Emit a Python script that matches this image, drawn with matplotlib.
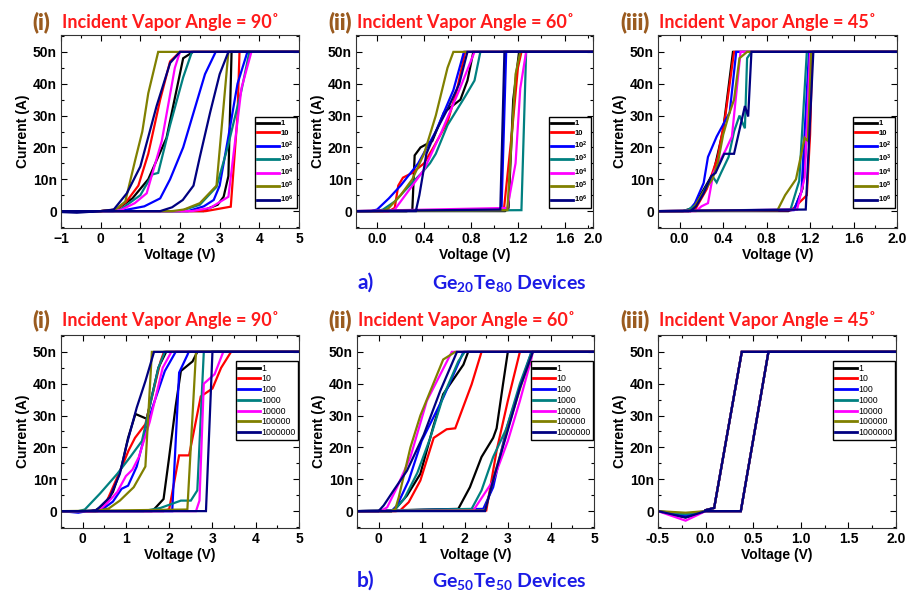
import matplotlib.pyplot as plt
from matplotlib.ticker import MultipleLocator

plt.rcParams['font.family'] = ['Liberation Sans', 'DejaVu Sans']
plt.rcParams['mathtext.default'] = 'regular'

colors = ['black', '#ff0000', '#0000ff', '#008080', '#ff00ff', '#808000', '#000080']
labels_a = ['1', '10', '10$^2$', '10$^3$', '10$^4$', '10$^5$', '10$^6$']
labels_b = ['1', '10', '100', '1000', '10000', '100000', '1000000']
current_ticks = [0, 10, 20, 30, 40, 50]
current_labels = ['0', '10n', '20n', '30n', '40n', '50n']

# I-V loops (voltage in V, current in nA), one list per switching-cycle count
a1_loops = [
    [(-1, 0), (2.6, 0), (2.7, 0.8), (2.95, 2), (3.1, 4.5), (3.22, 11), (3.3, 50), (5, 50), (2.33, 50), (2.08, 48),
     (1.66, 23), (1.2, 10), (0.8, 4), (0.4, 0.5), (0, 0), (-1, 0)],
    [(-1, 0), (2.65, 0), (3.28, 1.4), (3.45, 30), (3.5, 50), (5, 50), (2.0, 50), (1.75, 47), (1.5, 35), (1.2, 18),
     (0.95, 8), (0.65, 3), (0.4, 0.5), (0, 0), (-1, 0)],
    [(-1, 0), (2.2, 0), (2.6, 1.5), (2.85, 3.5), (3.0, 8), (3.2, 22), (3.45, 40), (3.7, 50), (5, 50), (2.9, 50),
     (2.63, 43), (2.08, 20), (1.75, 10), (1.5, 4), (1.1, 1.5), (0.6, 0.3), (0.3, 0), (-1, 0)],
    [(-1, 0), (2.0, 0), (2.5, 2), (2.92, 7.6), (3.2, 20), (3.55, 38), (3.75, 50), (5, 50), (2.3, 50), (2.08, 42),
     (1.75, 27), (1.45, 12), (1.3, 11.5), (1.0, 5), (0.5, 0.5), (0, 0), (-1, 0)],
    [(-1, 0), (2.3, 0), (2.76, 1), (3.22, 4.5), (3.55, 38.6), (3.8, 50), (5, 50), (2.0, 50), (1.87, 45), (1.54, 22),
     (1.16, 5.6), (0.86, 2.5), (0.5, 0.3), (0, 0), (-1, 0)],
    [(-1, 0), (1.8, 0), (2.1, 0.5), (2.5, 2.5), (2.92, 8), (3.22, 50), (5, 50), (1.45, 50), (1.2, 37), (1.05, 25),
     (0.87, 16), (0.62, 3), (0.35, 0.3), (0, 0), (-1, 0)],
    [(-1, 0), (1.5, 0), (1.8, 1.2), (2.07, 3.5), (2.34, 8), (2.5, 17), (2.76, 31), (3.0, 43), (3.22, 50), (5, 50),
     (2.0, 50), (1.75, 46.5), (1.41, 33), (1.0, 14), (0.66, 5.6), (0.33, 0.5), (0, 0), (-0.6, -0.5), (-1, -0.3)],
]

a2_loops = [
    [(-0.2, 0), (1.09, 0), (1.12, 1), (1.16, 35), (1.21, 50), (2.0, 50), (0.82, 50), (0.77, 41), (0.71, 35),
     (0.57, 31), (0.47, 22), (0.37, 20), (0.32, 17.5), (0.3, 0.3), (0.25, 0), (-0.2, 0)],
    [(-0.2, 0), (1.08, 0.3), (1.15, 25), (1.2, 45), (1.23, 50), (2.0, 50), (0.75, 50), (0.68, 38), (0.6, 28),
     (0.48, 20), (0.4, 15), (0.3, 12), (0.22, 10.5), (0.18, 8), (0.15, 1), (0.1, 0), (-0.2, 0)],
    [(-0.2, 0), (1.06, 0.3), (1.1, 50), (2.0, 50), (0.74, 50), (0.65, 38), (0.5, 25), (0.35, 15), (0.2, 8),
     (0.1, 4), (0.0, 0.5), (-0.05, 0), (-0.2, 0)],
    [(-0.2, 0), (1.23, 0.3), (1.27, 50), (2.0, 50), (0.88, 50), (0.83, 41), (0.75, 36), (0.6, 27), (0.5, 18),
     (0.45, 15), (0.38, 12), (0.25, 7), (0.15, 3), (0.05, 0.5), (0, 0), (-0.2, 0)],
    [(-0.2, 0), (1.11, 1), (1.18, 15), (1.22, 38.5), (1.27, 50), (2.0, 50), (0.83, 50), (0.7, 38), (0.55, 25),
     (0.4, 13), (0.3, 8), (0.2, 3), (0.15, 0.5), (0.1, 0), (-0.2, 0)],
    [(-0.2, 0), (1.11, 0.3), (1.18, 43), (1.22, 50), (2.0, 50), (0.65, 50), (0.6, 45), (0.5, 30), (0.4, 18),
     (0.3, 10), (0.2, 5), (0.1, 1), (0.05, 0), (-0.2, 0)],
    [(-0.2, 0), (1.05, 0.5), (1.085, 50), (2.0, 50), (0.77, 50), (0.7, 40), (0.6, 32), (0.5, 25), (0.42, 18),
     (0.36, 5), (0.33, 0), (-0.2, 0)],
]

a3_loops = [
    [(-0.2, 0), (1.0, 0), (1.06, 1), (1.13, 7), (1.17, 24), (1.2, 50), (2.0, 50), (0.49, 50), (0.4, 25.5),
     (0.31, 12), (0.2, 5.6), (0.12, 1), (0.03, 0), (-0.2, 0)],
    [(-0.2, 0), (1.03, 0.3), (1.17, 5), (1.2, 24), (1.22, 50), (2.0, 50), (0.5, 50), (0.42, 30), (0.35, 17),
     (0.25, 7), (0.15, 1), (0.1, 0), (-0.2, 0)],
    [(-0.2, 0), (1.05, 0.3), (1.12, 6), (1.19, 50), (2.0, 50), (0.52, 50), (0.46, 31), (0.34, 23.4), (0.26, 17),
     (0.22, 8.8), (0.14, 2.5), (0.08, 0), (-0.2, 0)],
    [(-0.2, 0), (1.02, 0.5), (1.1, 9.5), (1.17, 50), (2.0, 50), (0.66, 50), (0.62, 48), (0.6, 26), (0.55, 30),
     (0.5, 25), (0.45, 17), (0.38, 12), (0.34, 9), (0.3, 11), (0.25, 8), (0.15, 2), (0.08, 0.5), (0.03, 0), (-0.2, 0)],
    [(-0.2, 0), (1.08, 0.5), (1.15, 10.5), (1.2, 50), (2.0, 50), (0.56, 50), (0.48, 23.4), (0.42, 19), (0.31, 12),
     (0.26, 2.5), (0.2, 1.5), (0.15, 0), (-0.2, 0)],
    [(-0.2, 0), (0.9, 0.3), (0.97, 5), (1.07, 10), (1.15, 23), (1.18, 22), (1.21, 50), (2.0, 50), (0.62, 50),
     (0.55, 48), (0.5, 35), (0.45, 30), (0.4, 24), (0.35, 15), (0.3, 10), (0.2, 5), (0.12, 0.5), (0.08, 0), (-0.2, 0)],
    [(-0.2, 0), (1.16, 0.5), (1.23, 50), (2.0, 50), (0.66, 50), (0.63, 29.7), (0.6, 33), (0.55, 25.5), (0.5, 18),
     (0.41, 18), (0.33, 12), (0.29, 11), (0.22, 5.6), (0.15, 1.5), (0.1, 0), (-0.2, 0)],
]

b1_loops = [
    [(-0.5, 0), (1.6, 0), (1.68, 1), (1.87, 3.8), (1.99, 16), (2.15, 33), (2.27, 44), (2.54, 47), (2.65, 50), (5, 50),
     (1.93, 50), (1.75, 45), (1.48, 29), (1.22, 30.5), (1.05, 23), (0.9, 14), (0.7, 6), (0.5, 2), (0.3, 0.3),
     (0.2, 0), (-0.5, 0)],
    [(-0.5, 0), (1.87, 0), (2.0, 0.6), (2.23, 17.5), (2.46, 17.5), (2.73, 36), (3.0, 38.5), (3.2, 45), (3.43, 50),
     (5, 50), (1.88, 50), (1.8, 47), (1.45, 27.3), (1.21, 23), (1.06, 19), (0.91, 14), (0.7, 7.5), (0.5, 1.3),
     (0.35, 0), (-0.5, 0)],
    [(-0.5, 0), (-0.1, -0.5), (0.1, 0), (2.07, 0), (2.23, 43.5), (2.42, 49), (2.45, 50), (5, 50), (2.15, 50),
     (1.9, 44), (1.6, 32), (1.4, 22), (1.25, 14), (1.05, 8), (0.9, 7), (0.7, 3), (0.5, 1), (0.3, 0), (-0.5, 0)],
    [(-0.5, 0), (1.4, 0), (1.8, 1), (2.27, 3.3), (2.5, 3.3), (2.65, 6.5), (2.8, 50), (5, 50), (1.9, 50), (1.75, 45),
     (1.37, 22), (1.1, 17), (0.8, 11.7), (0.4, 5.5), (0.05, 0.5), (-0.1, 0), (-0.5, 0)],
    [(-0.5, 0), (2.62, 0), (2.7, 3.3), (2.8, 40), (3.05, 43), (3.25, 50), (5, 50), (2.05, 50), (1.85, 45),
     (1.55, 28), (1.3, 17), (1.15, 13), (1.0, 11), (0.8, 6), (0.6, 3), (0.4, 0.5), (0.2, 0), (-0.5, 0)],
    [(-0.5, 0), (2.42, 0.5), (2.62, 50), (5, 50), (1.6, 50), (1.45, 14), (1.18, 7.5), (0.86, 3.3), (0.6, 0.8),
     (0.32, 0), (-0.5, 0)],
    [(-0.5, 0), (2.85, 0), (3.0, 50), (5, 50), (1.65, 50), (1.45, 40.8), (1.25, 32.5), (1.02, 21), (0.86, 11.7),
     (0.63, 4.4), (0.32, 0.3), (0, 0), (-0.5, 0)],
]

b2_loops = [
    [(-0.5, 0), (1.85, 0.7), (2.12, 7.5), (2.39, 17), (2.66, 23), (2.74, 26), (2.89, 40), (3.0, 50), (5, 50),
     (2.08, 50), (1.97, 46), (1.5, 36.7), (1.28, 27), (0.97, 11.7), (0.66, 4.9), (0.39, 0.7), (0.3, 0), (-0.5, 0)],
    [(-0.5, 0), (2.5, 0.2), (2.74, 19), (3.0, 34.6), (3.28, 50), (5, 50), (2.39, 50), (2.16, 39.8), (1.78, 26),
     (1.58, 25.7), (1.28, 23), (0.97, 9.6), (0.7, 2.8), (0.5, 0.2), (0.4, 0), (-0.5, 0)],
    [(-0.5, 0), (2.43, 0.7), (2.66, 7.5), (2.97, 26), (3.28, 39), (3.55, 50), (5, 50), (1.97, 50), (1.5, 35.6),
     (1.0, 22), (0.7, 9.6), (0.43, 1.8), (0.3, 0), (-0.5, 0)],
    [(-0.5, 0), (2.16, 0.7), (2.39, 6.5), (2.66, 17), (2.97, 26), (3.28, 40), (3.55, 50), (5, 50), (2.0, 50),
     (1.85, 47), (1.5, 36), (1.2, 23), (0.9, 12), (0.6, 4), (0.4, 0.8), (0.3, 0), (-0.5, 0)],
    [(-0.5, 0), (2.2, 0.2), (2.66, 9.6), (3.0, 22), (3.28, 34.6), (3.55, 48), (3.58, 50), (5, 50), (1.7, 50),
     (1.12, 34.6), (0.74, 17), (0.43, 7.5), (0.2, 1.2), (0.05, 0), (-0.5, 0)],
    [(-0.5, 0), (2.47, 0.2), (2.74, 13.7), (3.0, 26), (3.32, 40), (3.58, 50), (5, 50), (1.78, 50), (1.5, 47.6),
     (0.97, 30), (0.74, 20), (0.47, 4.4), (0.39, 0.7), (0.3, 0), (-0.5, 0)],
    [(-0.5, 0), (2.47, 0), (2.7, 11.7), (2.97, 24), (3.28, 38.7), (3.58, 50), (5, 50), (1.82, 50), (1.43, 37.7),
     (1.05, 24), (0.66, 12.7), (0.35, 6.5), (0.12, 1.8), (0, 0), (-0.5, 0)],
]

b3_loops = [
    [(-0.5, 0), (-0.21, -2), (0, 0), (0.37, 0), (0.66, 50), (2.0, 50), (0.38, 50), (0.09, 1), (0, 0.3)],
    [(-0.5, 0), (-0.21, -1.5), (0, 0), (0.37, 0), (0.66, 50), (2.0, 50), (0.38, 50), (0.09, 1), (0, 0.3)],
    [(-0.5, 0), (-0.21, -1.5), (0, 0), (0.37, 0), (0.66, 50), (2.0, 50), (0.38, 50), (0.09, 1), (0, 0.3)],
    [(-0.5, 0), (-0.21, -1), (0, 0), (0.37, 0), (0.66, 50), (2.0, 50), (0.38, 50), (0.09, 1), (0, 0.3)],
    [(-0.5, 0), (-0.21, -3), (0, 0), (0.37, 0), (0.66, 50), (2.0, 50), (0.38, 50), (0.09, 1), (0, 0.3)],
    [(-0.5, 0), (-0.21, -0.5), (0, 0), (0.37, 0), (0.66, 50), (2.0, 50), (0.38, 50), (0.09, 1), (0, 0.3)],
    [(-0.5, 0), (-0.21, -2), (0, 0), (0.37, 0), (0.66, 50), (2.0, 50), (0.38, 50), (0.09, 1), (0, 0.3)],
]

W, H = 908, 594
fig = plt.figure(figsize=(W / 100, H / 100), dpi=100)


def px(x, y):
    return x / W, 1 - y / H


# panel: (left, top, right, bottom) in px, loops, xlim, xticks, xticklabels, minor step, roman, angle, row
panels = [
    ((61, 35, 299, 228), a1_loops, (-1, 5), [-1, 0, 1, 2, 3, 4, 5], None, 0.5, '(i)', '90', 'a'),
    ((356, 35, 593, 228), a2_loops, (-0.18, 1.84), [0, 0.4, 0.8, 1.2, 1.6, 1.84],
     ['0.0', '0.4', '0.8', '1.2', '1.6', '2.0'], 0.2, '(ii)', '60', 'a'),
    ((658, 35, 897, 228), a3_loops, (-0.2, 2.0), [0, 0.4, 0.8, 1.2, 1.6, 2.0],
     ['0.0', '0.4', '0.8', '1.2', '1.6', '2.0'], 0.2, '(iii)', '45', 'a'),
    ((61, 335, 299, 528), b1_loops, (-0.5, 5), [0, 1, 2, 3, 4, 5], None, 0.5, '(i)', '90', 'b'),
    ((357, 335, 594, 528), b2_loops, (-0.5, 5), [0, 1, 2, 3, 4, 5], None, 0.5, '(ii)', '60', 'b'),
    ((658, 335, 896, 528), b3_loops, (-0.5, 2.0), [-0.5, 0, 0.5, 1.0, 1.5, 2.0],
     ['-0.5', '0.0', '0.5', '1.0', '1.5', '2.0'], 0.25, '(iii)', '45', 'b'),
]

title_font = ['Lato', 'DejaVu Sans']

for (l, t, r, b), loops, xlim, xt, xtl, minor, roman, angle, row in panels:
    ax = fig.add_axes([l / W, 1 - b / H, (r - l) / W, (b - t) / H])
    labels = labels_a if row == 'a' else labels_b
    for loop, c, lab in zip(loops, colors, labels):
        v = [p[0] for p in loop]
        i = [p[1] for p in loop]
        ax.plot(v, i, color=c, lw=1.6, label=lab, solid_joinstyle='miter')
    ax.set_xlim(*xlim)
    ax.set_ylim(-5.3, 55.3)
    ax.set_xticks(xt)
    if xtl is not None:
        ax.set_xticklabels(xtl)
    ax.xaxis.set_minor_locator(MultipleLocator(minor))
    ax.set_yticks(current_ticks)
    ax.set_yticklabels(current_labels)
    ax.yaxis.set_minor_locator(MultipleLocator(5))
    ax.tick_params(which='both', direction='in', top=True, right=True, width=0.8)
    ax.tick_params(which='major', length=4, labelsize=10, pad=3)
    ax.tick_params(which='minor', length=2)
    for lbl in ax.get_xticklabels() + ax.get_yticklabels():
        lbl.set_fontweight('bold')
    for s in ax.spines.values():
        s.set_linewidth(0.8)
        s.set_color('#333333')
    ax.set_xlabel('Voltage (V)', fontsize=10, fontweight='bold', labelpad=1)
    ax.set_ylabel('Current (A)', fontsize=10, fontweight='bold', labelpad=2)

    if row == 'a':
        leg = ax.legend(loc='lower right', bbox_to_anchor=(0.99, 0.105), borderaxespad=0,
                        prop={'size': 5.5, 'weight': 'bold'}, labelspacing=0.3, handlelength=2.8,
                        handletextpad=0.2, borderpad=0.35, fancybox=False, framealpha=1)
    else:
        leg = ax.legend(loc='upper right', bbox_to_anchor=(0.995, 0.865), borderaxespad=0,
                        prop={'size': 6.3}, labelspacing=0.2, handlelength=2.5,
                        handletextpad=0.1, borderpad=0.3, fancybox=False, framealpha=1)
    leg.get_frame().set_edgecolor('black')
    leg.get_frame().set_linewidth(1.0)
    for h in leg.get_lines():
        h.set_linewidth(2)

    base = 29 if row == 'a' else 327
    rx = {'(i)': 32, '(ii)': 328, '(iii)': 620}[roman]
    fig.text(*px(rx, base), roman, color='#9a5b1f', fontsize=15.5, fontweight='heavy',
             family=title_font, va='baseline')
    fig.text(*px(l + 1, base - 1), 'Incident Vapor Angle = ' + angle + '˚', color='#ff1a1a', fontsize=13,
             fontweight='bold', family=title_font, va='baseline')

blue = '#1a1ae6'
fig.text(*px(357, 289), 'a)', color=blue, fontsize=15, fontweight='bold', family=title_font, va='baseline')
fig.text(*px(432, 289), 'Ge$_{20}$Te$_{80}$ Devices', color=blue, fontsize=14, fontweight='bold',
         family=title_font, va='baseline')
fig.text(*px(357, 587), 'b)', color=blue, fontsize=15, fontweight='bold', family=title_font, va='baseline')
fig.text(*px(432, 587), 'Ge$_{50}$Te$_{50}$ Devices', color=blue, fontsize=14, fontweight='bold',
         family=title_font, va='baseline')

fig.savefig('out.png', dpi=100)
